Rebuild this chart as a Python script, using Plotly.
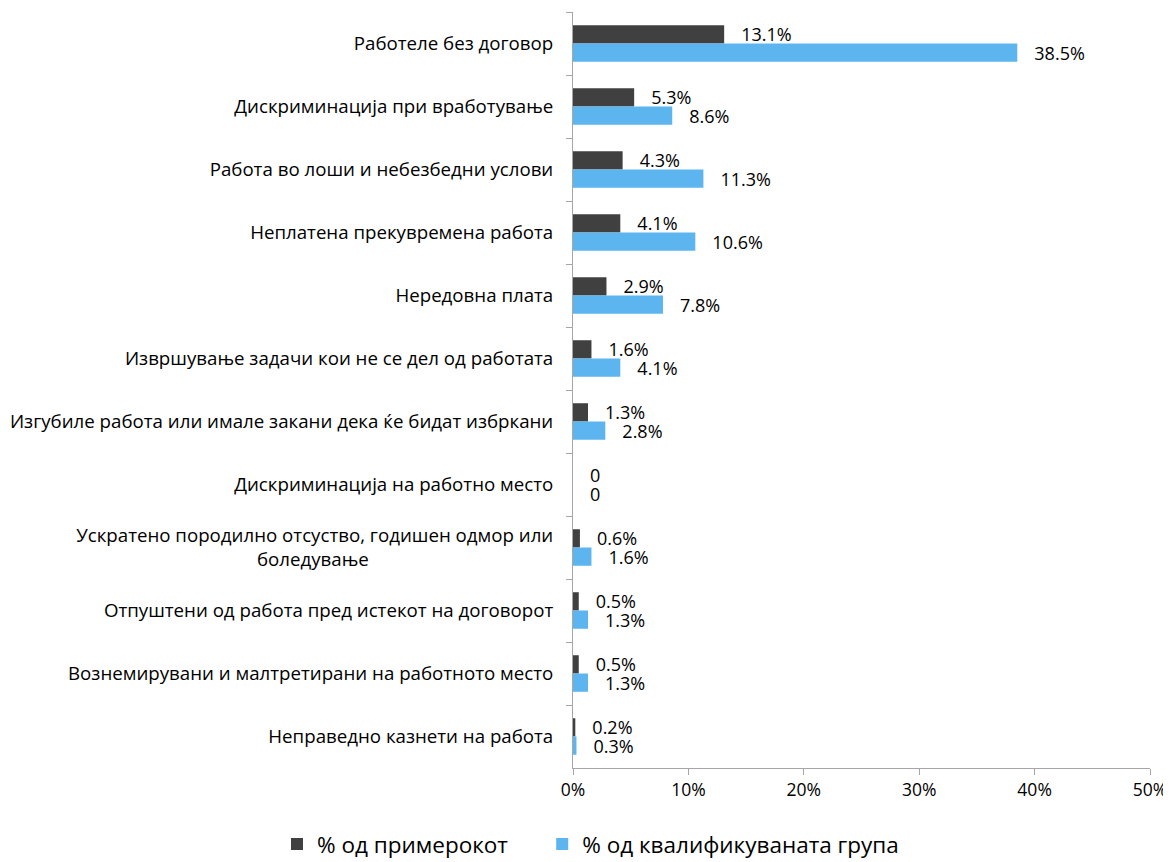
import plotly.graph_objects as go

categories = [
    "Работеле без договор",
    "Дискриминација при вработување",
    "Работа во лоши и небезбедни услови",
    "Неплатена прекувремена работа",
    "Нередовна плата",
    "Извршување задачи кои не се дел од работата",
    "Изгубиле работа или имале закани дека ќе бидат избркани",
    "Дискриминација на работно место",
    "Ускратено породилно отсуство, годишен одмор или<br>боледување" + "\u00a0" * 38,
    "Отпуштени од работа пред истекот на договорот",
    "Вознемирувани и малтретирани на работното место",
    "Неправедно казнети на работа",
]
sample_pct = [13.1, 5.3, 4.3, 4.1, 2.9, 1.6, 1.3, 0, 0.6, 0.5, 0.5, 0.2]
qualified_pct = [38.5, 8.6, 11.3, 10.6, 7.8, 4.1, 2.8, 0, 1.6, 1.3, 1.3, 0.3]
series_names = ["% од примерокот", "% од квалификуваната група"]
x_ticks = [0, 10, 20, 30, 40, 50]
x_tick_labels = ["0%", "10%", "20%", "30%", "40%", "50%"]

PAD = "\u00a0\u00a0\u00a0"


def labels(vals):
    return [PAD + (f"{v:.1f}%" if v else "0") for v in vals]


FONT = "Open Sans"
fig = go.Figure()
for name, vals, color in [
    (series_names[0] + "\u00a0" * 5, sample_pct, "#404040"),
    (series_names[1], qualified_pct, "#5DB5EF"),
]:
    fig.add_trace(go.Bar(
        y=categories, x=vals, name=name, orientation="h",
        marker=dict(color=color, line=dict(width=0)),
        text=labels(vals), textposition="outside", cliponaxis=False,
        constraintext="none",
        textfont=dict(family=FONT, size=18, color="#000000"),
        hoverinfo="x+y",
    ))

fig.update_layout(
    width=1163, height=854,
    margin=dict(l=565, r=21, t=4, b=94, autoexpand=False),
    paper_bgcolor="white", plot_bgcolor="white",
    barmode="group", bargap=0.42, bargroupgap=0,
    font=dict(family=FONT, size=18, color="#000000"),
    legend=dict(orientation="h", xref="paper", x=-0.513, xanchor="left",
                y=-0.101, yanchor="middle",
                font=dict(family=FONT, size=22.5), traceorder="normal"),
    xaxis=dict(range=[0, 50], tickvals=x_ticks, ticktext=x_tick_labels,
               showgrid=False, zeroline=False, showline=True, linecolor="#A6A6A6",
               linewidth=1, ticks="outside", ticklen=6, tickcolor="#A6A6A6",
               tickfont=dict(family=FONT, size=17.5)),
    yaxis=dict(autorange="reversed", showgrid=False, showline=True, linecolor="#A6A6A6",
               linewidth=1, ticks="outside", ticklen=6, tickcolor="#A6A6A6",
               tickson="boundaries", ticklabelstandoff=15,
               tickfont=dict(family=FONT, size=18.7)),
)

fig.write_html("out.html")
